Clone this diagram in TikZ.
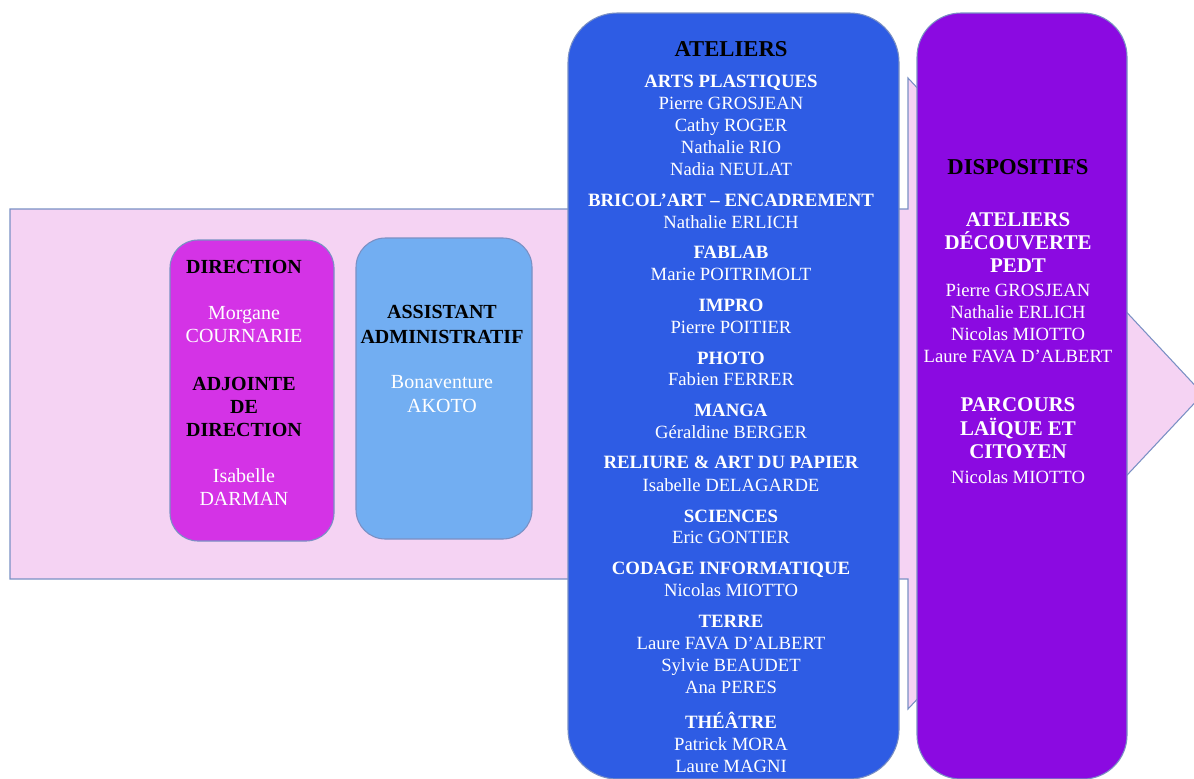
\documentclass[tikz,border=0pt]{standalone}
\usepackage{fontspec}
\setmainfont{Liberation Serif}
\definecolor{pinkbg}{HTML}{F5D3F3}
\definecolor{bordcol}{HTML}{7A90C4}
\definecolor{dircol}{HTML}{D433E6}
\definecolor{asscol}{HTML}{72AEF2}
\definecolor{atcol}{HTML}{2E5CE4}
\definecolor{dispcol}{HTML}{8B0AE1}
\begin{document}
\begin{tikzpicture}[x=0.75pt,y=-0.75pt,
  bord/.style={draw=bordcol, line width=0.8pt},
  txt/.style={anchor=base, inner sep=0pt},
  lb/.style={txt, text=black, font=\bfseries\fontsize{15}{17}\selectfont},
  ln/.style={txt, text=white, font=\fontsize{15}{17}\selectfont},
  ttl/.style={txt, text=black, font=\bfseries\fontsize{17}{19}\selectfont},
  hd/.style={txt, text=white, font=\bfseries\fontsize{14.1}{16}\selectfont},
  nm/.style={txt, text=white, font=\fontsize{14}{16}\selectfont},
  dh/.style={txt, text=white, font=\bfseries\fontsize{15.7}{17}\selectfont}]
\useasboundingbox (0,0) rectangle (1194,778);
\clip (0,0) rectangle (1194,778);
% background arrow
\draw[bord, fill=pinkbg] (10,209) -- (908,209) -- (908,78) -- (1203,394)
  -- (908,709) -- (908,579) -- (10,579) -- cycle;
% boxes
\draw[bord, fill=dircol, rounded corners=21pt] (170,240) rectangle (334,541);
\draw[bord, fill=asscol, rounded corners=22pt] (356,238) rectangle (532,539);
\draw[bord, fill=atcol, rounded corners=37pt] (568,13) rectangle (899,779);
\draw[bord, fill=dispcol, rounded corners=33pt] (917,13) rectangle (1127,779);
% direction
\node[lb] (d1) at (244,273) {DIRECTION};
\node[ln] (d2) at (244,319) {Morgane};
\node[ln] (d3) at (244,342) {COURNARIE};
\node[lb] (d4) at (244,390) {ADJOINTE};
\node[lb] (d5) at (244,413) {DE};
\node[lb] (d6) at (244,436) {DIRECTION};
\node[ln] (d7) at (244,482) {Isabelle};
\node[ln] (d8) at (244,505) {DARMAN};
% assistant
\node[lb] (a1) at (442,318) {ASSISTANT};
\node[lb] (a2) at (442,343) {ADMINISTRATIF};
\node[ln] (a3) at (442,388) {Bonaventure};
\node[ln] (a4) at (442,412) {AKOTO};
% ateliers
\node[ttl] (t0) at (731,56) {ATELIERS};
\node[hd] (t1) at (731,87) {ARTS PLASTIQUES};
\node[nm] (t2) at (731,109) {Pierre GROSJEAN};
\node[nm] (t3) at (731,131) {Cathy ROGER};
\node[nm] (t4) at (731,153) {Nathalie RIO};
\node[nm] (t5) at (731,175) {Nadia NEULAT};
\node[hd] (t6) at (731,206) {BRICOL’ART – ENCADREMENT};
\node[nm] (t7) at (731,228) {Nathalie ERLICH};
\node[hd] (t8) at (731,258) {FABLAB};
\node[nm] (t9) at (731,280) {Marie POITRIMOLT};
\node[hd] (t10) at (731,311) {IMPRO};
\node[nm] (t11) at (731,333) {Pierre POITIER};
\node[hd] (t12) at (731,364) {PHOTO};
\node[nm] (t13) at (731,385) {Fabien FERRER};
\node[hd] (t14) at (731,416) {MANGA};
\node[nm] (t15) at (731,438) {Géraldine BERGER};
\node[hd] (t16) at (731,468) {RELIURE \& ART DU PAPIER};
\node[nm] (t17) at (731,491) {Isabelle DELAGARDE};
\node[hd] (t18) at (731,522) {SCIENCES};
\node[nm] (t19) at (731,543) {Eric GONTIER};
\node[hd] (t20) at (731,574) {CODAGE INFORMATIQUE};
\node[nm] (t21) at (731,596) {Nicolas MIOTTO};
\node[hd] (t22) at (731,627) {TERRE};
\node[nm] (t23) at (731,649) {Laure FAVA D’ALBERT};
\node[nm] (t24) at (731,671) {Sylvie BEAUDET};
\node[nm] (t25) at (731,693) {Ana PERES};
\node[hd] (t26) at (731,728) {THÉÂTRE};
\node[nm] (t27) at (731,750) {Patrick MORA};
\node[nm] (t28) at (731,772) {Laure MAGNI};
% dispositifs
\node[ttl] (p0) at (1018,174) {DISPOSITIFS};
\node[dh] (p1) at (1018,226) {ATELIERS};
\node[dh] (p2) at (1018,249) {DÉCOUVERTE};
\node[dh] (p3) at (1018,272) {PEDT};
\node[nm] (p4) at (1018,296) {Pierre GROSJEAN};
\node[nm] (p5) at (1018,318) {Nathalie ERLICH};
\node[nm] (p6) at (1018,340) {Nicolas MIOTTO};
\node[nm] (p7) at (1018,362) {Laure FAVA D’ALBERT};
\node[dh] (p8) at (1018,411) {PARCOURS};
\node[dh] (p9) at (1018,435) {LAÏQUE ET};
\node[dh] (p10) at (1018,458) {CITOYEN};
\node[nm] (p11) at (1018,483) {Nicolas MIOTTO};
\end{tikzpicture}
\end{document}
